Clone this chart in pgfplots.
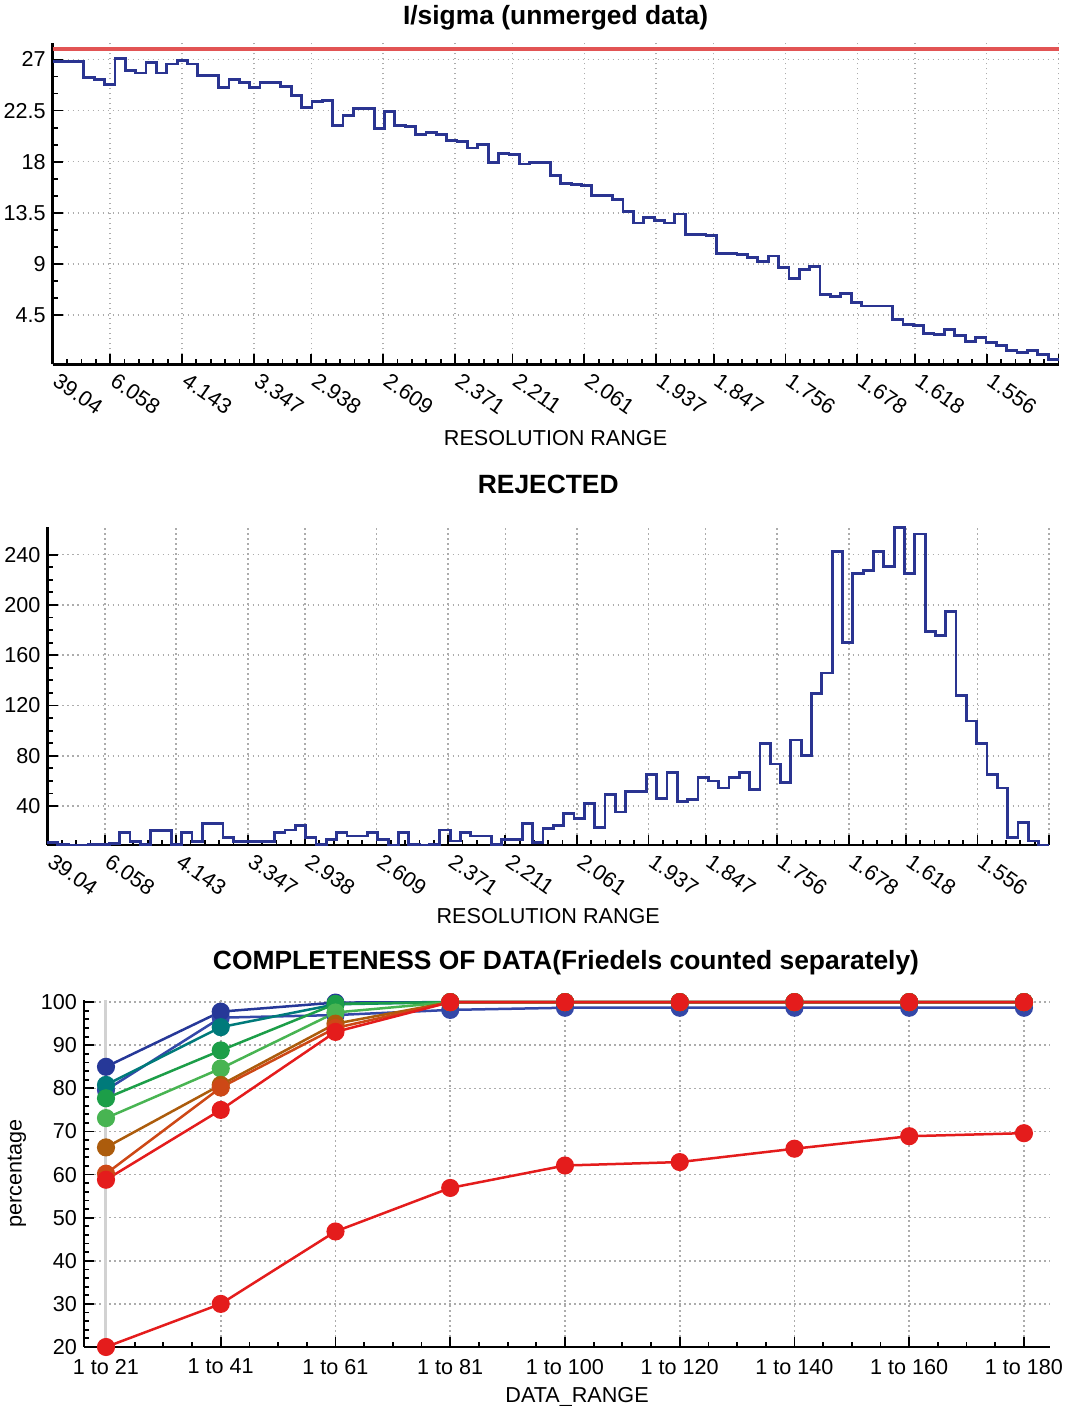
\documentclass[border=0pt]{standalone}
\usepackage{fontspec}
\setmainfont{Liberation Sans}
\usepackage{pgfplots}
\usepackage{pgfplotstable}
\pgfplotsset{compat=1.18}

\definecolor{stepblue}{RGB}{42,52,145}
\definecolor{limitred}{RGB}{226,84,84}
\definecolor{gridgray}{RGB}{172,172,172}
\definecolor{cnavy}{RGB}{38,56,152}
\definecolor{cnavyb}{RGB}{52,72,168}
\definecolor{cteal}{RGB}{0,122,122}
\definecolor{cgreen}{RGB}{28,158,72}
\definecolor{clgreen}{RGB}{72,180,82}
\definecolor{cbrown}{RGB}{172,92,12}
\definecolor{corange}{RGB}{205,72,22}
\definecolor{cred}{RGB}{228,28,28}

% I/sigma per resolution bin (97 bins)
\pgfplotstableread{
bin val
0 26.8
1 26.8
2 26.8
3 25.4
4 25.2
5 24.8
6 27.1
7 26.0
8 25.8
9 26.7
10 25.8
11 26.6
12 26.9
13 26.6
14 25.6
15 25.6
16 24.5
17 25.2
18 25.0
19 24.5
20 25.0
21 25.0
22 24.6
23 23.8
24 22.8
25 23.3
26 23.4
27 21.2
28 22.1
29 22.7
30 22.7
31 20.9
32 22.4
33 21.2
34 21.1
35 20.4
36 20.6
37 20.4
38 19.9
39 19.8
40 19.2
41 19.5
42 17.9
43 18.7
44 18.6
45 17.8
46 17.9
47 17.9
48 16.8
49 16.1
50 16.0
51 15.9
52 15.0
53 15.0
54 14.7
55 13.6
56 12.6
57 13.1
58 12.8
59 12.6
60 13.4
61 11.6
62 11.6
63 11.5
64 9.9
65 9.9
66 9.8
67 9.6
68 9.2
69 9.7
70 8.7
71 7.7
72 8.5
73 8.8
74 6.3
75 6.1
76 6.4
77 5.6
78 5.3
79 5.3
80 5.3
81 4.1
82 3.7
83 3.6
84 2.9
85 2.8
86 3.2
87 2.7
88 2.2
89 2.5
90 2.1
91 1.8
92 1.4
93 1.2
94 1.4
95 1.0
96 0.6
97 0.6
}\isigtable

% rejected reflections per resolution bin
\pgfplotstableread{
bin val
0 10.8
1 9.5
2 9
3 9
4 9.5
5 9.5
6 10
7 19
8 11.6
9 9.5
10 20.3
11 20.3
12 9.5
13 19
14 11.6
15 25.8
16 25.8
17 14.9
18 11.6
19 11.6
20 11.6
21 11.6
22 19
23 21
24 24.4
25 14.9
26 9.5
27 13.5
28 19
29 16.2
30 16.2
31 19
32 13.5
33 9
34 19
35 9.4
36 9
37 9.5
38 20.9
39 12.1
40 19
41 16.2
42 16.2
43 9.5
44 13.5
45 13.5
46 25.8
47 10.8
48 22.2
49 24.4
50 34
51 29.9
52 42.1
53 23
54 49
55 35.3
56 51.7
57 51.7
58 65.3
59 46.2
60 66.7
61 43.5
62 45.4
63 62.6
64 59.9
65 54.4
66 62.6
67 66.7
68 53.1
69 89.9
70 73.5
71 58.5
72 92.6
73 80.4
74 129.5
75 145.8
76 242.7
77 170.4
78 225
79 227.7
80 242.7
81 230.4
82 261.8
83 225
84 256.4
85 178.6
86 175.9
87 195
88 128.1
89 107.6
90 89.9
91 65.3
92 54.4
93 14.9
94 27.1
95 12.1
96 9
97 9
}\rejtable

\pgfplotsset{
  panel/.style={
    scale only axis,
    anchor=south west,
    axis lines=left,
    axis line style={-, line width=1.3pt, black},
    tick align=inside,
    major tick length=5pt,
    minor tick length=2.6pt,
    tick style={black, line width=0.9pt},
    grid=major,
    major grid style={gridgray, line width=0.8pt, dash pattern=on 0.8pt off 1.7pt},
    font=\fontsize{10.8}{13}\selectfont,
    /pgf/number format/assume math mode=true,
    every axis title shift=0pt,
    title style={font=\bfseries\fontsize{13.2}{15}\selectfont, anchor=center},
    xlabel style={anchor=center},
    ylabel style={anchor=center},
  },
  resaxis/.style={
    xmin=0, xmax=97,
    xtick={0,5.543,12.471,19.4,24.943,31.871,38.8,44.343,51.271,58.2,63.743,70.671,77.6,83.143,90.071,97},
    xticklabels={39.04,6.058,4.143,3.347,2.938,2.609,2.371,2.211,2.061,1.937,1.847,1.756,1.678,1.618,1.556,{}},
    minor xtick={0,1.385714,...,97.1},
    xticklabel style={xshift=3.5pt, yshift=-2.2pt, rotate=-35, anchor=north west, inner sep=1pt},
    xlabel={RESOLUTION RANGE},
  },
}

\begin{document}
\begin{tikzpicture}
\useasboundingbox (0,0) rectangle (534pt,703pt);

% ---- I/sigma ----
\begin{axis}[panel, resaxis,
  at={(26.35pt,520.75pt)}, width=502.9pt, height=160.75pt,
  ymin=0.15, ymax=28.45,
  ytick={4.5,9,13.5,18,22.5,27},
  minor y tick num=2,
  clip=false,
  title={I/sigma (unmerged data)},
  title style={at={(axis description cs:0.5,1.0778)}},
  xlabel style={at={(axis description cs:0.5,-0.2286)}},
]
\addplot[limitred, line width=1.9pt] coordinates {(0,27.95) (97,27.95)};
\addplot[const plot, stepblue, line width=1.4pt] table[x=bin, y=val] {\isigtable};
\end{axis}

% ---- REJECTED ----
\begin{axis}[panel, resaxis,
  at={(23.75pt,280.5pt)}, width=500.75pt, height=159pt,
  ymin=9, ymax=262,
  ytick={40,80,...,240},
  minor y tick num=3,
  clip=false,
  title={REJECTED},
  title style={at={(axis description cs:0.5,1.1352)}},
  xlabel style={at={(axis description cs:0.5,-0.2233)}},
]
\addplot[const plot, stepblue, line width=1.4pt] table[x=bin, y=val] {\rejtable};
\end{axis}

% ---- COMPLETENESS ----
\begin{axis}[panel,
  at={(42pt,29.5pt)}, width=483pt, height=173.5pt,
  xmin=-0.1917, xmax=8.227,
  ymin=20, ymax=100.5,
  xtick={0,1,...,8},
  xticklabels={1 to 21,1 to 41,1 to 61,1 to 81,1 to 100,1 to 120,1 to 140,1 to 160,1 to 180},
  xticklabel style={yshift=-2.5pt},
  minor xtick={0,0.25,...,8.1},
  ytick={20,30,...,100},
  minor y tick num=4,
  clip=false,
  title={COMPLETENESS OF DATA(Friedels counted separately)},
  title style={at={(axis description cs:0.499,1.1066)}},
  xlabel={DATA\_RANGE},
  xlabel style={at={(axis description cs:0.5104,-0.144)}},
  ylabel={percentage},
  ylabel style={at={(axis description cs:-0.0694,0.5)}},
  every axis plot/.append style={line width=1.25pt, mark=*, mark size=3.9pt},
]
\addplot[gray!35, line width=1.5pt, mark=none] coordinates {(0,20) (0,100.5)};
\addplot[cnavyb, mark options={fill=cnavyb}] coordinates {(0,79.6) (1,96.4) (2,97.0) (3,98.2) (4,98.7) (5,98.7) (6,98.7) (7,98.7) (8,98.7)};
\addplot[cnavy, mark options={fill=cnavy}] coordinates {(0,85.0) (1,97.8) (2,99.9) (3,100) (4,100) (5,100) (6,100) (7,100) (8,100)};
\addplot[cteal, mark options={fill=cteal}] coordinates {(0,80.8) (1,94.2) (2,99.5) (3,100) (4,100) (5,100) (6,100) (7,100) (8,100)};
\addplot[cgreen, mark options={fill=cgreen}] coordinates {(0,77.7) (1,88.8) (2,99.6) (3,100) (4,100) (5,100) (6,100) (7,100) (8,100)};
\addplot[clgreen, mark options={fill=clgreen}] coordinates {(0,73.1) (1,84.6) (2,97.6) (3,100) (4,100) (5,100) (6,100) (7,100) (8,100)};
\addplot[cbrown, mark options={fill=cbrown}] coordinates {(0,66.3) (1,80.8) (2,95.0) (3,100) (4,100) (5,100) (6,100) (7,100) (8,100)};
\addplot[corange, mark options={fill=corange}] coordinates {(0,60.2) (1,80.2) (2,94.0) (3,100) (4,100) (5,100) (6,100) (7,100) (8,100)};
\addplot[cred, mark options={fill=cred}] coordinates {(0,58.8) (1,75.0) (2,93.1) (3,100) (4,100) (5,100) (6,100) (7,100) (8,100)};
\addplot[cred, mark options={fill=cred}] coordinates {(0,20) (1,30) (2,46.8) (3,56.9) (4,62.1) (5,62.9) (6,66.0) (7,68.9) (8,69.6)};
\end{axis}
\end{tikzpicture}
\end{document}
